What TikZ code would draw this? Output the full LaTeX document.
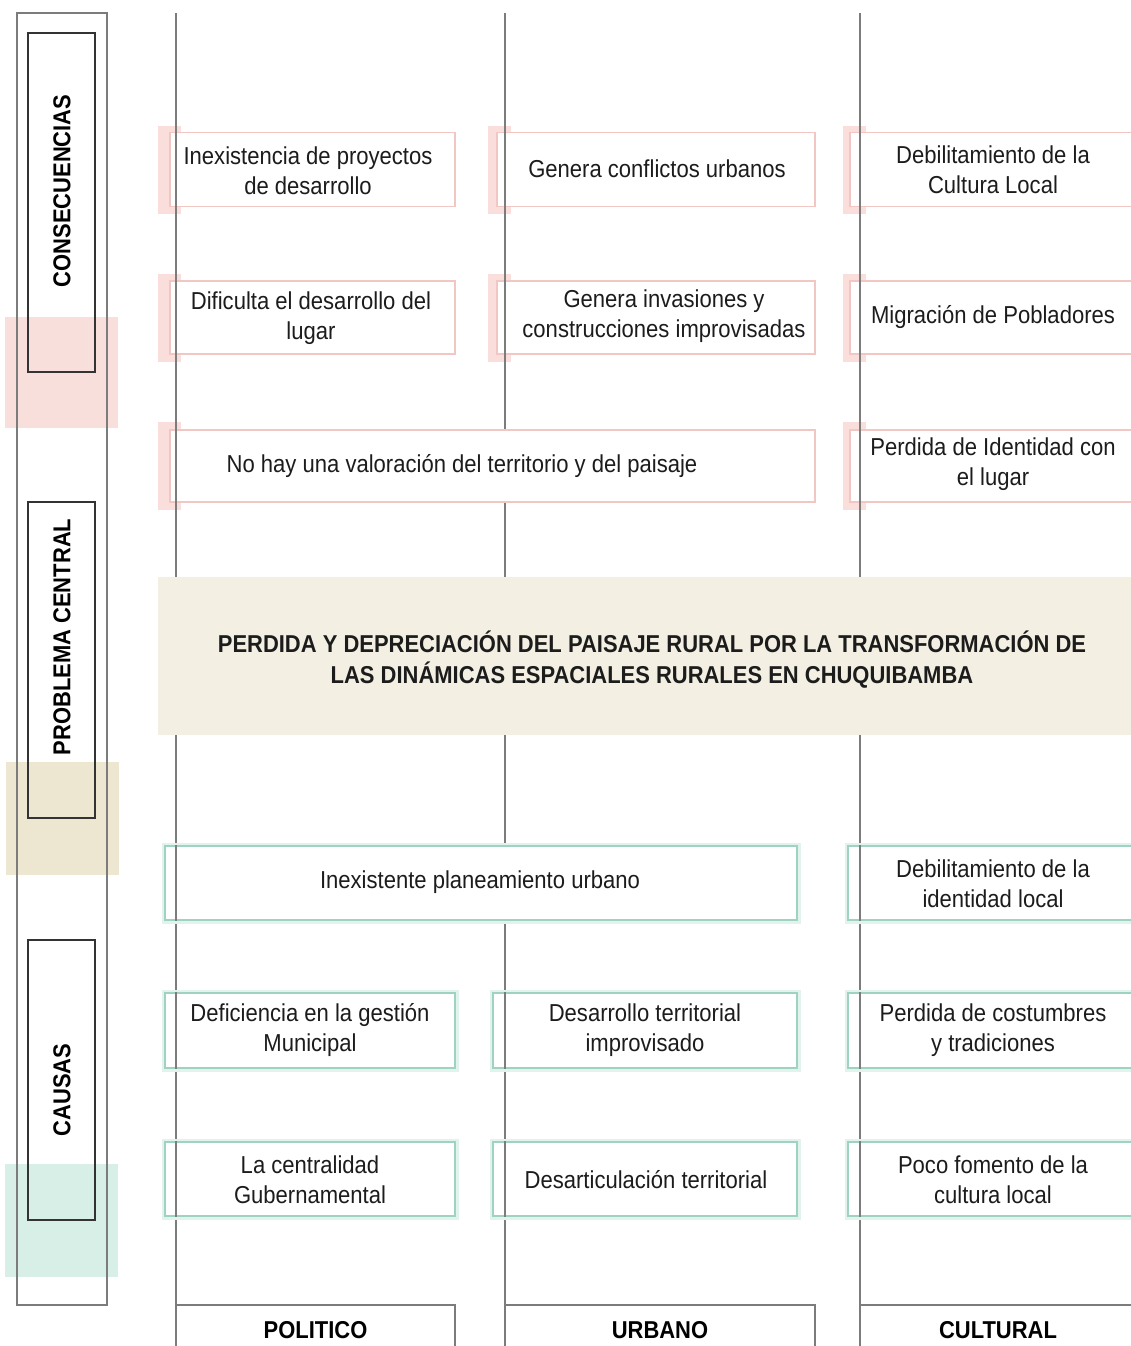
\documentclass[tikz,border=0pt]{standalone}
\usepackage{fontspec}
\setmainfont{Liberation Sans}[FakeStretch=0.9]
\definecolor{pinkE}{HTML}{F2C6C2}
\definecolor{pinkS}{HTML}{F9DEDB}
\definecolor{pinkP}{HTML}{F8DFDB}
\definecolor{greenE}{HTML}{9ED3C2}
\definecolor{greenG}{HTML}{E2F3ED}
\definecolor{greenP}{HTML}{D8EFE8}
\definecolor{beigeB}{HTML}{F3F0E3}
\definecolor{beigeP}{HTML}{EDE7D1}
\definecolor{lineG}{HTML}{7C7C7C}
\definecolor{txtD}{HTML}{1C1C1C}
\newcommand\txtsz{\fontsize{24.5}{30}\selectfont}
\newcommand\boldsz{\fontsize{24.4}{31}\selectfont\bfseries}
\begin{document}
\begin{tikzpicture}[x=1pt,y=-1pt,
  vline/.style={draw=lineG, line width=1.8pt},
  pbox/.style={draw=pinkE, line width=1.8pt, fill=white, inner sep=0pt},
  gbox/.style={draw=greenE, line width=2.6pt, fill=white, inner sep=0pt,
               preaction={draw=greenG, line width=7pt}},
  btxt/.style={align=center, font=\txtsz, text=txtD, inner sep=0pt},
  lbl/.style={font=\boldsz, text=black, inner sep=0pt},
  hdr/.style={draw=lineG, line width=1.8pt, inner sep=0pt, font=\boldsz},
  lbox/.style={draw=black!80, line width=2pt}
]
\useasboundingbox (0,0) rectangle (1131,1346);
\fill[white] (0,0) rectangle (1131,1346);

% left colour patches
\fill[pinkP] (5,317) rectangle (118,428);
\fill[beigeP] (6,762) rectangle (119,875);
\fill[greenP] (5,1164) rectangle (118,1277);

% left frames
\draw[draw=lineG, line width=1.8pt] (17,13) rectangle (107,1305);
\draw[lbox] (28,33) rectangle (95,372);
\draw[lbox] (28,502) rectangle (95,818);
\draw[lbox] (28,940) rectangle (95,1220);
\node[lbl, rotate=90] (lcons) at (62,191) {CONSECUENCIAS};
\node[lbl, rotate=90] (lprob) at (62,637) {PROBLEMA CENTRAL};
\node[lbl, rotate=90] (lcaus) at (62,1090) {CAUSAS};

% column lines
\coordinate (l1t) at (176,13); \coordinate (l1b) at (176,1346);
\coordinate (l2t) at (505,13); \coordinate (l2b) at (505,1346);
\coordinate (l3t) at (860,13); \coordinate (l3b) at (860,1346);

% pink strips (consequences)
\foreach \yc in {169.5,317.5,466}{
  \fill[pinkS] (158,\yc-44) rectangle (181,\yc+44);
  \fill[pinkS] (843,\yc-44) rectangle (866,\yc+44);
}
\foreach \yc in {169.5,317.5}{
  \fill[pinkS] (488,\yc-44) rectangle (511,\yc+44);
}

\draw[vline] (l1t) -- (l1b);
\draw[vline] (l2t) -- (l2b);
\draw[vline] (l3t) -- (l3b);

% consequences
\node[pbox, minimum width=285, minimum height=74] (c11) at (312.5,169.5) {};
\node[pbox, minimum width=318, minimum height=74] (c12) at (656,169.5) {};
\node[pbox, minimum width=286, minimum height=74] (c13) at (993,169.5) {};
\node[pbox, minimum width=285, minimum height=73] (c21) at (312.5,317.5) {};
\node[pbox, minimum width=318, minimum height=73] (c22) at (656,317.5) {};
\node[pbox, minimum width=286, minimum height=73] (c23) at (993,317.5) {};
\node[pbox, minimum width=645, minimum height=72] (c31) at (492.5,466) {};
\node[pbox, minimum width=286, minimum height=72] (c33) at (993,466) {};

% causes
\node[gbox, minimum width=632, minimum height=74] (k11) at (481,883) {};
\node[gbox, minimum width=290, minimum height=74] (k13) at (993,883) {};
\node[gbox, minimum width=290, minimum height=75] (k21) at (310,1030.5) {};
\node[gbox, minimum width=304, minimum height=75] (k22) at (645,1030.5) {};
\node[gbox, minimum width=290, minimum height=75] (k23) at (993,1030.5) {};
\node[gbox, minimum width=290, minimum height=74] (k31) at (310,1179) {};
\node[gbox, minimum width=304, minimum height=74] (k32) at (645,1179) {};
\node[gbox, minimum width=290, minimum height=74] (k33) at (993,1179) {};

% line segments seen through boxes
\foreach \b in {c11,c21,c31,k11,k21,k31}{\draw[vline] (\b.north -| l1t) -- (\b.south -| l1t);}
\foreach \b in {c12,c22,k22,k32}{\draw[vline] (\b.north -| l2t) -- (\b.south -| l2t);}
\foreach \b in {c13,c23,c33,k13,k23,k33}{\draw[vline] (\b.north -| l3t) -- (\b.south -| l3t);}

% texts consequences
\node[btxt] (t11) at (308,171) {Inexistencia de proyectos\\de desarrollo};
\node[btxt] (t12) at (657,169) {Genera conflictos urbanos};
\node[btxt] (t13) at (993,170) {Debilitamiento de la\\Cultura Local};
\node[btxt] (t21) at (311,318) {Dificulta el desarrollo del\\lugar};
\node[btxt] (t22) at (664,316) {Genera invasiones y\\construcciones improvisadas};
\node[btxt] (t23) at (993,317) {Migración de Pobladores};
\node[btxt] (t31) at (462,466) {No hay una valoración del territorio y del paisaje};
\node[btxt] (t33) at (993,464) {Perdida de Identidad con\\el lugar};

% central problem band
\node[fill=beigeB, minimum width=985, minimum height=158, inner sep=0pt] (band) at (650.5,656) {};
\node[align=center, font=\boldsz, text=txtD, inner sep=0pt] (tband) at (652,660)
  {PERDIDA Y DEPRECIACIÓN DEL PAISAJE RURAL POR LA TRANSFORMACIÓN DE\\LAS DINÁMICAS ESPACIALES RURALES EN CHUQUIBAMBA};

% texts causes
\node[btxt] (u11) at (480,882) {Inexistente planeamiento urbano};
\node[btxt] (u13) at (993,884) {Debilitamiento de la\\identidad local};
\node[btxt] (u21) at (310,1030) {Deficiencia en la gestión\\Municipal};
\node[btxt] (u22) at (645,1030) {Desarrollo territorial\\improvisado};
\node[btxt] (u23) at (993,1030) {Perdida de costumbres\\y tradiciones};
\node[btxt] (u31) at (310,1180) {La centralidad\\Gubernamental};
\node[btxt] (u32) at (646,1180) {Desarticulación territorial};
\node[btxt] (u33) at (993,1180) {Poco fomento de la\\cultura local};

% bottom headers
\node[hdr, minimum width=279, minimum height=50] (hpol) at (315.5,1330) {POLITICO};
\node[hdr, minimum width=310, minimum height=50] (hurb) at (660,1330) {URBANO};
\node[hdr, minimum width=280, minimum height=50] (hcul) at (1000,1330) {};
\node[font=\boldsz, inner sep=0pt] (tcul) at (998,1330) {CULTURAL};
\end{tikzpicture}
\end{document}
